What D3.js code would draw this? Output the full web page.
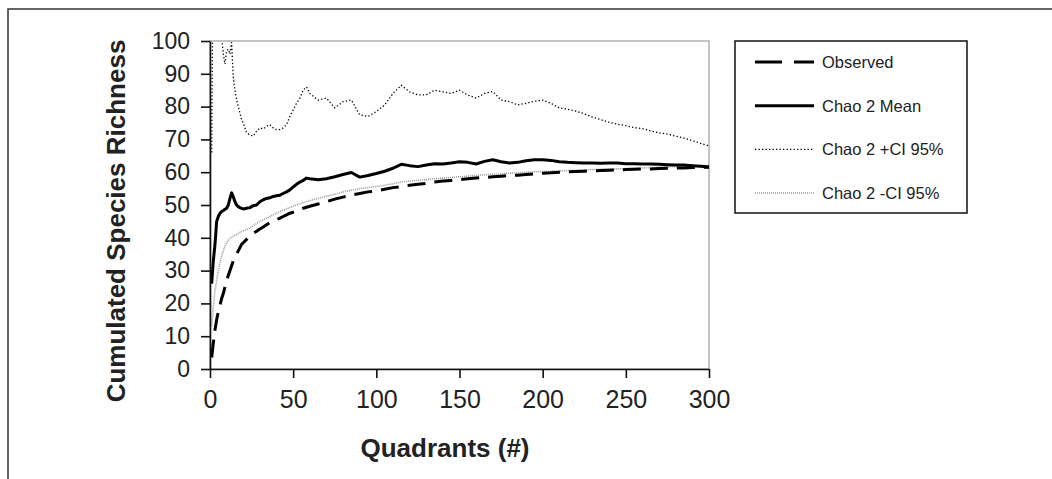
<!DOCTYPE html>
<html>
<head>
<meta charset="utf-8">
<script src="https://cdn.jsdelivr.net/npm/d3@7"></script>
<style>
  body { margin: 0; background: #fff; }
  svg text { font-family: "Liberation Sans", Arial, sans-serif; fill: #222; }
</style>
</head>
<body>
<svg id="chart" width="1052" height="479"></svg>
<script>
// quadrant numbers where the curves were read
const quadrants = [1,2,3,4,5,6,7,8,9,10,11,12,13,14,15,16,17,18,19,20,
  22,24,26,28,30,32,34,36,38,40,42,44,46,48,50,52,54,56,58,60,
  65,70,75,80,85,90,95,100,105,110,115,120,125,130,135,140,145,150,155,160,
  165,170,175,180,185,190,195,200,205,210,215,220,225,230,235,240,245,250,255,260,
  265,270,275,280,285,290,295,300];

const observed = [3.5,8,12,15,17.5,19.5,21.5,23,25,27,28.5,30,31.5,33,34,35,36,37,38,38.5,
  39.5,40.5,41.3,42,42.7,43.3,44,44.6,45,45.5,46,46.5,47,47.5,47.8,48.2,48.6,49,49.3,49.6,
  50.3,51,51.8,52.4,53,53.5,54,54.3,54.8,55.3,55.6,56,56.3,56.6,57,57.3,57.5,57.7,58,58.2,
  58.4,58.6,58.8,59,59.1,59.3,59.5,59.7,59.8,60,60.1,60.2,60.3,60.4,60.5,60.6,60.7,60.8,60.9,61,
  61,61.1,61.2,61.3,61.3,61.4,61.5,61.5];

const chaoMean = [26,33,38,45,46.5,47.5,48,48.3,48.7,49,50,52,53.7,52.5,51,50,49.5,49.2,49,48.8,
  49,49.2,49.8,50,51,51.6,52,52.2,52.6,52.8,53,53.5,54,54.6,55.5,56.3,57,57.5,58.2,58,
  57.7,58,58.6,59.3,59.9,58.5,59,59.6,60.3,61.2,62.4,62,61.7,62.2,62.6,62.5,62.8,63.2,63,62.5,
  63.3,63.8,63.2,62.8,63,63.5,63.8,63.8,63.6,63.2,63,62.9,62.8,62.8,62.7,62.8,62.8,62.6,62.6,62.5,
  62.5,62.4,62.3,62.2,62.2,62,61.8,61.6];

const chaoUpper = [66,135,160,150,140,120,101,96,93,97,97.5,96,99.5,89,85,82,80,78,76,75,
  72,71.4,71,72.5,73.5,73.2,74,74.5,73.5,73,73,73.5,74.5,77,79,81,82.5,85,86,84,
  82,82.6,79.6,81.5,82,77.5,77,78.5,80.5,84,86.5,84.5,83.6,83.6,85,84.5,84,85,83.5,82.6,
  84,84.6,82,81.5,80.5,81,81.6,82,81,79.6,79.2,78.6,77.8,76.8,76,75.2,74.6,74.2,73.6,73.3,
  72.6,72,71.6,71,70.4,69.6,68.8,68];

const chaoLower = [13,19,24,27,30,32.5,34.5,36,37.5,38.5,39.3,39.8,40.2,40.5,40.8,41,41.3,41.6,41.9,42.1,
  42.5,43,43.7,44.3,45,45.5,46,46.5,47,47.5,48,48.4,48.8,49.2,49.6,50,50.4,50.7,51,51.3,
  52,52.7,53.3,54,54.5,55,55.3,55.6,56,56.5,57,57.3,57.5,57.7,58,58.2,58.4,58.6,58.8,59,
  59.2,59.4,59.5,59.7,59.8,60,60.1,60.2,60.3,60.4,60.5,60.6,60.7,60.8,60.9,61,61,61.1,61.2,61.3,
  61.4,61.5,61.6,61.7,61.8,61.9,62,62];

const xTicks = [0,50,100,150,200,250,300];
const yTicks = [0,10,20,30,40,50,60,70,80,90,100];
const seriesNames = ["Observed","Chao 2 Mean","Chao 2 +CI 95%","Chao 2 -CI 95%"];

const svg = d3.select("#chart");
const plot = {left: 210, right: 709, top: 41, bottom: 369};

const x = d3.scaleLinear().domain([0, 300]).range([plot.left, plot.right]);
const y = d3.scaleLinear().domain([0, 100]).range([plot.bottom, plot.top]);

// outer frame (top and left edge only visible)
svg.append("path")
  .attr("d", "M8,479V9H1052")
  .attr("fill", "none")
  .attr("stroke", "#333")
  .attr("stroke-width", 1.5);

// plot frame
svg.append("rect")
  .attr("x", plot.left).attr("y", plot.top)
  .attr("width", plot.right - plot.left).attr("height", plot.bottom - plot.top)
  .attr("fill", "none").attr("stroke", "#888").attr("stroke-width", 1);

svg.append("clipPath").attr("id", "clip")
  .append("rect")
  .attr("x", plot.left).attr("y", plot.top)
  .attr("width", plot.right - plot.left).attr("height", plot.bottom - plot.top);

const styles = [
  {stroke: "#000", width: 3, dash: "18,9"},
  {stroke: "#000", width: 3, dash: null},
  {stroke: "#000", width: 1.3, dash: "1.3,2.2"},
  {stroke: "#999", width: 1.6, dash: "1,1"}
];
const seriesData = [observed, chaoMean, chaoUpper, chaoLower];

const line = d3.line()
  .x((d, i) => x(quadrants[i]))
  .y(d => y(d));

const lines = svg.append("g").attr("clip-path", "url(#clip)");
// draw order: bounds first, then means
[3, 2, 0, 1].forEach(k => {
  lines.append("path")
    .datum(seriesData[k])
    .attr("d", line)
    .attr("fill", "none")
    .attr("stroke", styles[k].stroke)
    .attr("stroke-width", styles[k].width)
    .attr("stroke-dasharray", styles[k].dash)
    .attr("stroke-linejoin", "round");
});

// axes
const yAxis = svg.append("g")
  .attr("transform", `translate(${plot.left},0)`)
  .call(d3.axisLeft(y).tickValues(yTicks).tickSize(9).tickPadding(11).tickSizeOuter(0));
yAxis.selectAll("text").style("font-size", "23px");

const xAxis = svg.append("g")
  .attr("transform", `translate(0,${plot.bottom})`)
  .call(d3.axisBottom(x).tickValues(xTicks).tickSize(9).tickPadding(12).tickSizeOuter(0));
xAxis.selectAll("text").style("font-size", "25px");

svg.selectAll(".domain, .tick line").attr("stroke", "#111").attr("stroke-width", 1.6);

// axis titles
svg.append("text")
  .attr("x", 445).attr("y", 457)
  .attr("text-anchor", "middle")
  .style("font-size", "26px").style("font-weight", "bold")
  .text("Quadrants (#)");

svg.append("text")
  .attr("transform", "translate(125,221) rotate(-90)")
  .attr("text-anchor", "middle")
  .style("font-size", "26px").style("font-weight", "bold")
  .text("Cumulated Species Richness");

// legend
const legend = svg.append("g");
legend.append("rect")
  .attr("x", 735).attr("y", 41).attr("width", 232).attr("height", 172)
  .attr("fill", "#fff").attr("stroke", "#111").attr("stroke-width", 1.5);

const rowY = d3.scalePoint().domain(seriesNames).range([62, 193]);
seriesNames.forEach((name, k) => {
  legend.append("line")
    .attr("x1", 755).attr("x2", 814)
    .attr("y1", rowY(name)).attr("y2", rowY(name))
    .attr("stroke", styles[k].stroke)
    .attr("stroke-width", styles[k].width)
    .attr("stroke-dasharray", k === 0 ? "27,12" : styles[k].dash);
  legend.append("text")
    .attr("x", 822).attr("y", rowY(name))
    .attr("dominant-baseline", "central")
    .style("font-size", "16.5px")
    .text(name);
});
</script>
</body>
</html>
